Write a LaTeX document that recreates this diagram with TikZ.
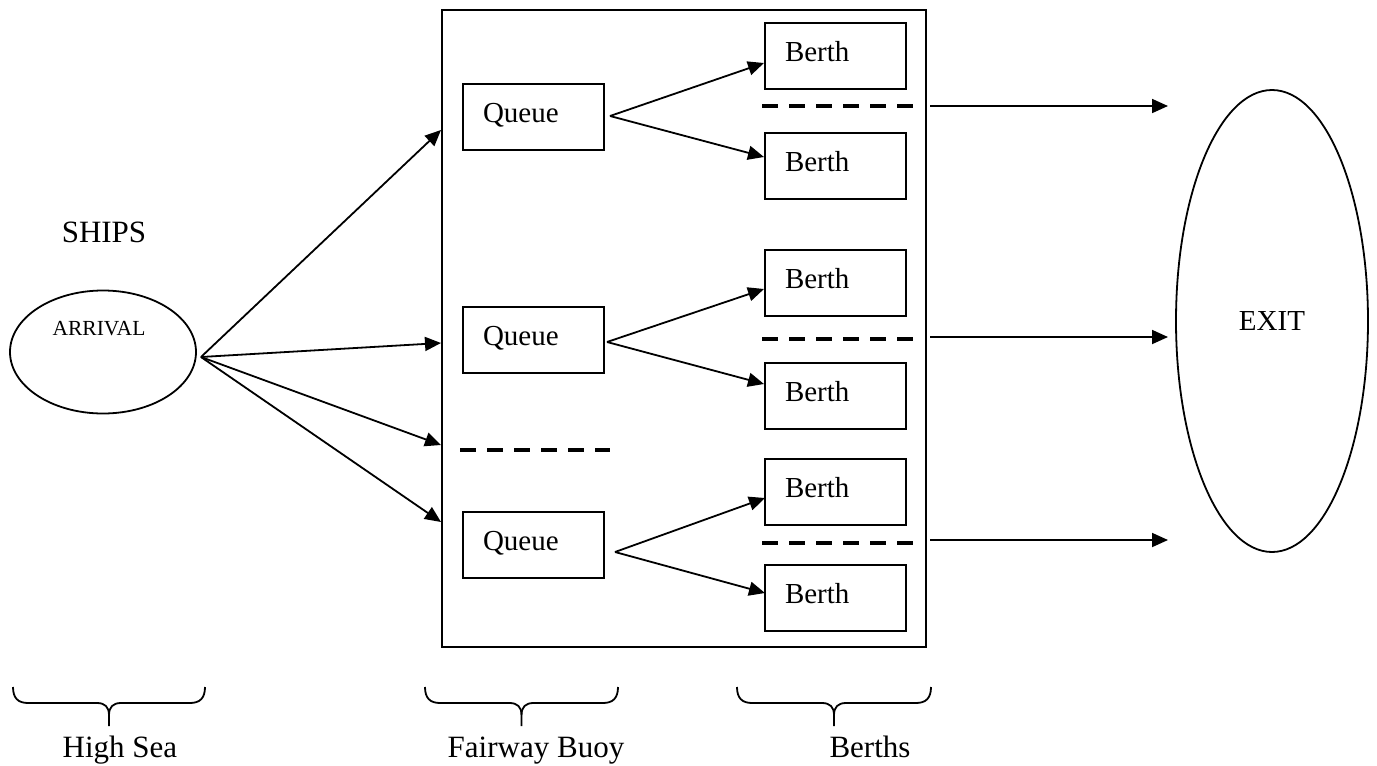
\documentclass[tikz,border=0pt]{standalone}
\usepackage{fontspec}
\setmainfont{Liberation Serif}
\usetikzlibrary{shapes.geometric,arrows.meta,calc}
\newcommand\curlybrace[3]{%
  \pgfmathsetmacro\bxm{(#1+#2)/2}%
  \draw[bracestyle] (#1,#3) .. controls (#1,#3+11) and (#1+5,#3+16) .. (#1+15,#3+16)
    -- (\bxm-12,#3+16) .. controls (\bxm-4,#3+16) and (\bxm,#3+20) .. (\bxm,#3+28)
    -- (\bxm,#3+39);
  \draw[bracestyle] (\bxm,#3+28) .. controls (\bxm,#3+20) and (\bxm+4,#3+16) .. (\bxm+12,#3+16)
    -- (#2-15,#3+16) .. controls (#2-5,#3+16) and (#2,#3+11) .. (#2,#3);
}
\begin{document}
\begin{tikzpicture}[x=1pt,y=-1pt,
  conn/.style={line width=1.8pt,-{Triangle[length=16pt,width=14pt]}},
  qbox/.style={draw,line width=2pt,anchor=north west,text width=101pt,inner xsep=20pt,
    inner ysep=0pt,minimum height=66pt,align=left,text height=19pt,text depth=9pt,
    font=\fontsize{29}{31}\selectfont},
  sep/.style={line width=4pt,dash pattern=on 16pt off 11pt},
  bracestyle/.style={line width=1.8pt},
  lbl/.style={anchor=base,inner sep=0pt,font=\fontsize{31}{33}\selectfont}]
\useasboundingbox (0,0) rectangle (1377,766);

% port frame
\node[draw,line width=2pt,minimum width=484pt,minimum height=637.5pt,anchor=north west,inner sep=0pt] (port) at (441,8.5) {};

% high sea
\node[lbl] (ships) at (104,242) {SHIPS};
\node[draw,ellipse,line width=1.8pt,minimum width=186pt,minimum height=123pt,inner sep=0pt] (arr) at (103,352) {};
\node[anchor=base,inner sep=0pt,font=\fontsize{21.5}{23}\selectfont] (arrtext) at (99,335) {ARRIVAL};
\coordinate (src) at (201,357);

% queues
\node[qbox] (q1) at (462,83) {Queue};
\node[qbox] (q2) at (462,306) {Queue};
\node[qbox] (q3) at (462,511) {Queue};

% berths
\node[qbox] (b1) at (764,22) {Berth};
\node[qbox] (b2) at (764,132) {Berth};
\node[qbox] (b3) at (764,249) {Berth};
\node[qbox] (b4) at (764,362) {Berth};
\node[qbox] (b5) at (764,458) {Berth};
\node[qbox] (b6) at (764,564) {Berth};

% exit
\node[draw,ellipse,line width=1.8pt,minimum width=192pt,minimum height=462pt,inner sep=0pt,
  font=\fontsize{29}{31}\selectfont] (exit) at (1272,321) {EXIT};

% arrival arrows
\coordinate (a1) at (441,130);
\coordinate (a2) at (441,343);
\coordinate (a3) at (441,445);
\coordinate (a4) at (441,522);
\draw[conn] (src) -- (a1);
\draw[conn] (src) -- (a2);
\draw[conn] (src) -- (a3);
\draw[conn] (src) -- (a4);

% fan-outs
\coordinate (f1) at (610,116);
\coordinate (f2) at (607,342);
\coordinate (f3) at (615,552);
\coordinate (b1in) at (764,63);
\coordinate (b2in) at (764,157);
\coordinate (b3in) at (764,289);
\coordinate (b4in) at (764,384);
\coordinate (b5in) at (765,498);
\coordinate (b6in) at (765,593);
\draw[conn] (f1) -- (b1in);
\draw[conn] (f1) -- (b2in);
\draw[conn] (f2) -- (b3in);
\draw[conn] (f2) -- (b4in);
\draw[conn] (f3) -- (b5in);
\draw[conn] (f3) -- (b6in);

% dashed separators
\draw[sep] (762,106) -- (913,106);
\draw[sep] (762,339) -- (913,339);
\draw[sep] (762,543) -- (913,543);
\draw[sep] (460,450) -- (610,450);

% exit arrows
\coordinate (e1s) at (930,106);
\coordinate (e2s) at (930,337);
\coordinate (e3s) at (930,540);
\coordinate (e1) at (1168,106);
\coordinate (e2) at (1168,337);
\coordinate (e3) at (1168,540);
\draw[conn] (e1s) -- (e1);
\draw[conn] (e2s) -- (e2);
\draw[conn] (e3s) -- (e3);

% braces and labels
\curlybrace{13}{205}{687}
\curlybrace{425}{618}{687}
\curlybrace{737}{931}{687}
\node[lbl] (highsea) at (120,757) {High Sea};
\node[lbl] (fairway) at (536,757) {Fairway Buoy};
\node[lbl] (berths) at (870,757) {Berths};
\end{tikzpicture}
\end{document}
